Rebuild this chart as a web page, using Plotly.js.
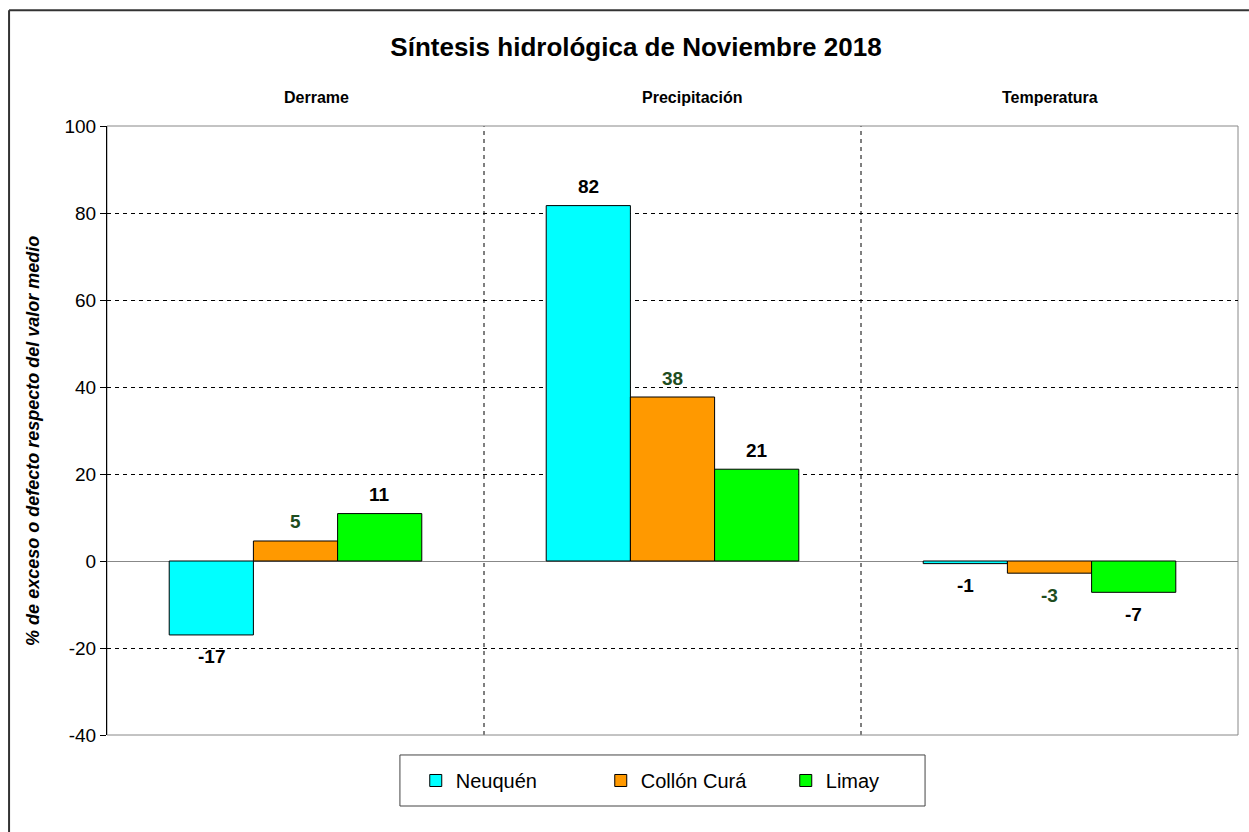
<!DOCTYPE html>
<html>
<head>
<meta charset="utf-8">
<script src="https://cdn.plot.ly/plotly-3.0.1.min.js"></script>
<style>html,body{margin:0;padding:0;background:#fff;overflow:hidden;}#chart{width:1249px;height:832px;}</style>
</head>
<body>
<div id="chart"></div>
<script>
const categories = ["Derrame", "Precipitación", "Temperatura"];
const seriesNames = ["Neuquén", "Collón Curá", "Limay"];
const neuquen = [-17.0, 81.7, -0.6];
const collonCura = [4.6, 37.7, -2.8];
const limay = [10.9, 21.1, -7.2];
const yTicks = [-40, -20, 0, 20, 40, 60, 80, 100];

const FONT = "Arial, 'Liberation Sans', sans-serif";
const colors = ["#00FFFF", "#FF9900", "#00FF00"];
const labelColors = ["#000000", "#1e4d1e", "#000000"];
const allSeries = [neuquen, collonCura, limay];

const traces = allSeries.map((vals, i) => ({
  type: "bar",
  name: seriesNames[i],
  x: categories,
  y: vals,
  marker: {color: colors[i], line: {color: "#000", width: 1}},
  hoverinfo: "skip"
}));

// value labels placed at bar ends
const barShift = [-84, 0, 84];
const annotations = [];
allSeries.forEach((vals, i) => {
  vals.forEach((v, j) => {
    annotations.push({
      x: categories[j], xref: "x", y: v, yref: "y",
      xshift: barShift[i], yshift: v >= 0 ? 19 : -22, yanchor: "middle",
      text: "<b>" + Math.round(v) + "</b>", showarrow: false,
      font: {family: FONT, size: 19, color: labelColors[i]}
    });
  });
});

const catShift = [21, 19, 0];
categories.forEach((c, i) => annotations.push({
  x: c, xref: "x", y: 1, yref: "paper", yanchor: "middle", yshift: 29, xshift: catShift[i],
  text: "<b>" + c + "</b>", showarrow: false,
  font: {family: FONT, size: 16, color: "#000"}
}));

// y axis title
annotations.push({
  x: -0.0654, xref: "paper", y: 0.483, yref: "paper", xanchor: "center", yanchor: "middle",
  textangle: -90, showarrow: false,
  text: "<b><i>% de exceso o defecto respecto del valor medio</i></b>",
  font: {family: FONT, size: 18, color: "#000"}
});

const shapes = [
  {type: "line", xref: "x", yref: "paper", x0: 0.5, x1: 0.5, y0: 0, y1: 1, layer: "below",
   line: {color: "#000", width: 1, dash: "4px,4px"}},
  {type: "line", xref: "x", yref: "paper", x0: 1.5, x1: 1.5, y0: 0, y1: 1, layer: "below",
   line: {color: "#000", width: 1, dash: "4px,4px"}},
  {type: "rect", xref: "paper", yref: "paper", x0: 0, x1: 1, y0: 0, y1: 1, layer: "below",
   line: {color: "#888", width: 1}},
  // legend frame
  {type: "rect", xref: "paper", yref: "paper", x0: 0.259, x1: 0.7233, y0: -0.1166, y1: -0.0328,
   line: {color: "#444", width: 1}},
  // outer chart frame (top and left edges only visible)
  {type: "line", xref: "paper", yref: "paper", x0: -0.0866, x1: 1.0097, y0: 1.19, y1: 1.19,
   line: {color: "#333", width: 2}},
  {type: "line", xref: "paper", yref: "paper", x0: -0.0866, x1: -0.0866, y0: -0.16, y1: 1.19,
   line: {color: "#333", width: 2}}
];

const layout = {
  width: 1249, height: 832,
  paper_bgcolor: "#fff", plot_bgcolor: "#fff",
  margin: {l: 107, r: 11, t: 126, b: 97},
  font: {family: FONT, color: "#000"},
  title: {text: "<b>Síntesis hidrológica de Noviembre 2018</b>", x: 636/1249, xref: "container", xanchor: "center",
          y: 1 - 47/832, yanchor: "middle", font: {family: FONT, size: 26, color: "#000"}},
  barmode: "group", bargap: 0.33, bargroupgap: 0,
  xaxis: {showticklabels: false, ticks: "", showline: false, showgrid: false, zeroline: false, fixedrange: true},
  yaxis: {
    range: [-40, 100], tickvals: yTicks, ticktext: yTicks.map(String),
    ticks: "outside", ticklen: 6, tickcolor: "#000",
    showline: true, linecolor: "#000", linewidth: 1,
    showgrid: true, gridcolor: "#000", gridwidth: 1, griddash: "4px,4px",
    zeroline: true, zerolinecolor: "#888", zerolinewidth: 1,
    tickfont: {family: FONT, size: 19, color: "#000"}
  },
  legend: {
    orientation: "h", x: 0.273, xanchor: "left", y: -0.0747, yanchor: "middle",
    borderwidth: 0, bgcolor: "rgba(0,0,0,0)",
    font: {family: FONT, size: 20, color: "#000"},
    entrywidth: 140, itemwidth: 30, valign: "middle"
  },
  annotations: annotations,
  shapes: shapes,
  showlegend: true
};

Plotly.newPlot("chart", traces, layout, {displayModeBar: false, staticPlot: true});
</script>
</body>
</html>
